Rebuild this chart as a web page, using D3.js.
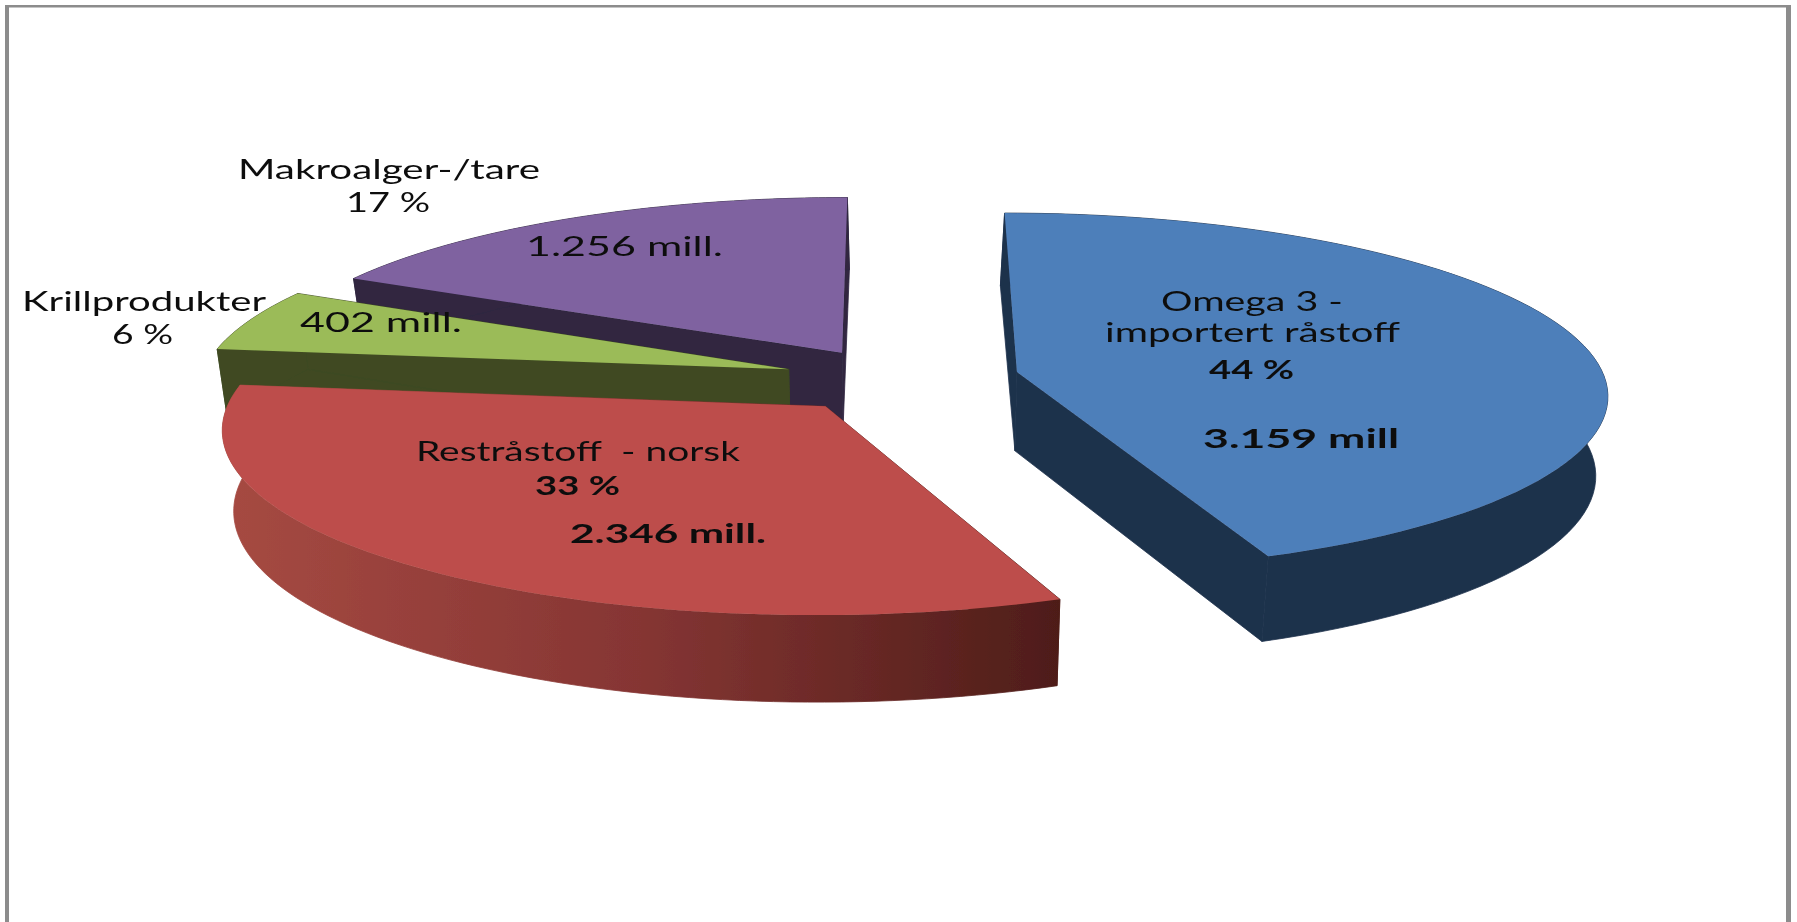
<!DOCTYPE html>
<html>
<head>
<meta charset="utf-8">
<script src="https://cdn.jsdelivr.net/npm/d3@7"></script>
<style>
  html, body { margin: 0; padding: 0; background: #fff; overflow: hidden; }
  text { font-family: Lato, "Open Sans", sans-serif; fill: #111; }
</style>
</head>
<body>
<svg id="chart" width="1797" height="922"></svg>
<script>
// verdier lest av figuren (mill. kr)
const categories = ["Omega 3 - importert råstoff", "Restråstoff - norsk", "Krillprodukter", "Makroalger-/tare"];
const values = [3159, 2346, 402, 1256];
const percentLabels = ["44 %", "33 %", "6 %", "17 %"];
const amountLabels = ["3.159 mill", "2.346 mill.", "402 mill.", "1.256 mill."];

// utseende
const topColors = ["#4e7fba", "#bd4e4b", "#9bbb59", "#7f62a0"];
const wallColors = ["#1e324c", "url(#redWall)", "#3f4a22", "#302640"];
const explode = [0.212, 0.19, 0.19, 0.175];

// skrå projeksjon av kakeplanet
const cx = 895, cy = 379;
const radiusX = 588, radiusY = 178.5, tilt = 0.1134;
const depth = 79, depthTilt = 0.08, bottomShrink = 0.983, backShrink = 0.04;

function project(u, v) {
    const w = 1 - tilt * v;
    return [cx + radiusX * u / w, cy + radiusY * v / w];
}
function lower(u, v) {
    const p = project(u, v);
    const shrink = bottomShrink + backShrink * Math.min(v + 0.5, 0);
    return [cx + (p[0] - cx) * shrink, p[1] + depth / (1 - depthTilt * v)];
}

const svg = d3.select("#chart");
const defs = svg.append("defs");
const grad = defs.append("linearGradient")
    .attr("id", "redWall")
    .attr("gradientUnits", "userSpaceOnUse")
    .attr("x1", 225).attr("x2", 1060).attr("y1", 0).attr("y2", 0);
grad.append("stop").attr("offset", 0).attr("stop-color", "#a64a42");
grad.append("stop").attr("offset", 0.5).attr("stop-color", "#853533");
grad.append("stop").attr("offset", 1).attr("stop-color", "#4e1d19");
defs.append("filter").attr("id", "soft")
    .append("feGaussianBlur").attr("stdDeviation", 0.6);

// ramme
[
    ["M7,7V922", 4],
    ["M5,6.2H1791", 2.5],
    ["M1788.5,5V922", 5]
].forEach(f => {
    svg.append("path")
        .attr("d", f[0])
        .attr("fill", "none")
        .attr("stroke", "#8c8c8c")
        .attr("stroke-width", f[1]);
});

const pie = d3.pie().sort(null).value(d => d)(values);
const line = d3.line();
const chart = svg.append("g").attr("filter", "url(#soft)");

function drawSlice(i) {
    const s = pie[i];
    const mid = (s.startAngle + s.endAngle) / 2;
    const ax = explode[i] * Math.sin(mid), ay = -explode[i] * Math.cos(mid);
    const n = 80;
    const rim = d3.range(n + 1).map(k => {
        const a = s.startAngle + (s.endAngle - s.startAngle) * k / n;
        return [ax + Math.sin(a), ay - Math.cos(a)];
    });
    const g = chart.append("g").attr("class", "slice");
    const top = rim.map(q => project(q[0], q[1]));
    const bottom = rim.map(q => lower(q[0], q[1]));
    const a0 = project(ax, ay), a1 = lower(ax, ay);

    // vegger først, så toppflaten over
    [
        [a0, top[0], bottom[0], a1],
        [a0, top[n], bottom[n], a1],
        top.concat(bottom.slice().reverse())
    ].forEach(poly => {
        g.append("path")
            .attr("d", line(poly) + "Z")
            .attr("fill", wallColors[i])
            .attr("stroke", wallColors[i])
            .attr("stroke-width", 0.8);
    });
    g.append("path")
        .attr("d", line([a0].concat(top)) + "Z")
        .attr("fill", topColors[i]);
}

[3, 2, 1, 0].forEach(drawSlice);

// tekst: [tekst, x, grunnlinje, bredde, fet]
const labelRows = [
    ["Makroalger-/tare", 238, 179, 302, false],
    [percentLabels[3], 346, 212, 84, false],
    [amountLabels[3], 526, 256, 197, false],
    ["Krillprodukter", 22, 311, 244, false],
    [percentLabels[2], 112, 344, 61, false],
    [amountLabels[2], 300, 332, 162, false],
    ["Omega 3 -", 1161, 311, 182, false],
    ["importert råstoff", 1105, 342, 295, false],
    [percentLabels[0], 1209, 379, 85, true],
    [amountLabels[0], 1203, 448, 196, true],
    ["Restråstoff  - norsk", 416, 461, 324, false],
    [percentLabels[1], 535, 495, 85, true],
    [amountLabels[1], 570, 543, 196, true]
];

svg.append("g").attr("filter", "url(#soft)").selectAll("text")
    .data(labelRows)
    .enter()
    .append("text")
    .attr("x", d => d[1])
    .attr("y", d => d[2])
    .attr("font-size", 27)
    .attr("font-weight", d => d[4] ? 700 : 400)
    .attr("textLength", d => d[3])
    .attr("lengthAdjust", "spacingAndGlyphs")
    .attr("xml:space", "preserve")
    .text(d => d[0]);
</script>
</body>
</html>
